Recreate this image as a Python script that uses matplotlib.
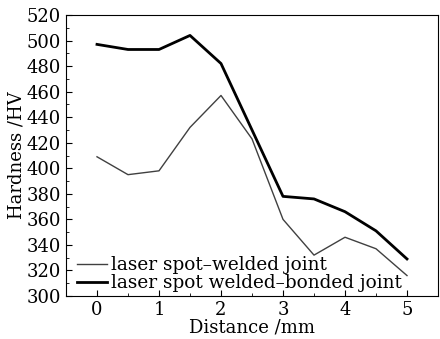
import matplotlib
matplotlib.use("Agg")
import matplotlib.pyplot as plt
from matplotlib.ticker import MultipleLocator

distance = [0, 0.5, 1, 1.5, 2, 2.5, 3, 3.5, 4, 4.5, 5]
welded = [409, 395, 398, 432, 457, 423, 360, 332, 346, 337, 316]
welded_bonded = [497, 493, 493, 504, 482, 430, 378, 376, 366, 351, 329]

plt.rcParams["font.family"] = "DejaVu Serif"
plt.rcParams["mathtext.fontset"] = "dejavuserif"

fig = plt.figure(figsize=(4.4, 3.39), dpi=100)
ax = fig.add_axes([66 / 440, 1 - 296 / 339, 372 / 440, 281 / 339])

ax.plot(distance, welded, color="#404040", lw=1.0, label="laser spot\u2013welded joint")
ax.plot(distance, welded_bonded, color="black", lw=2.0, label="laser spot welded\u2013bonded joint")

ax.set_xlim(-0.5, 5.5)
ax.set_ylim(300, 520)
ax.xaxis.set_major_locator(MultipleLocator(1))
ax.xaxis.set_minor_locator(MultipleLocator(0.5))
ax.yaxis.set_major_locator(MultipleLocator(20))
ax.yaxis.set_minor_locator(MultipleLocator(10))
ax.tick_params(which="both", direction="in", labelsize=13, top=False, right=False)
ax.tick_params(which="major", length=4)
ax.tick_params(which="minor", length=2.5)

ax.set_xlabel("Distance /mm", fontsize=13, labelpad=0)
ax.set_ylabel("Hardness /HV", fontsize=13, labelpad=1)

ax.legend(loc="lower left", frameon=False, fontsize=13.3, handlelength=1.6,
          handletextpad=0.25, borderaxespad=0.0, borderpad=0.2,
          labelspacing=0.0, bbox_to_anchor=(0.02, 0.0))

fig.savefig("out.png", dpi=100)
